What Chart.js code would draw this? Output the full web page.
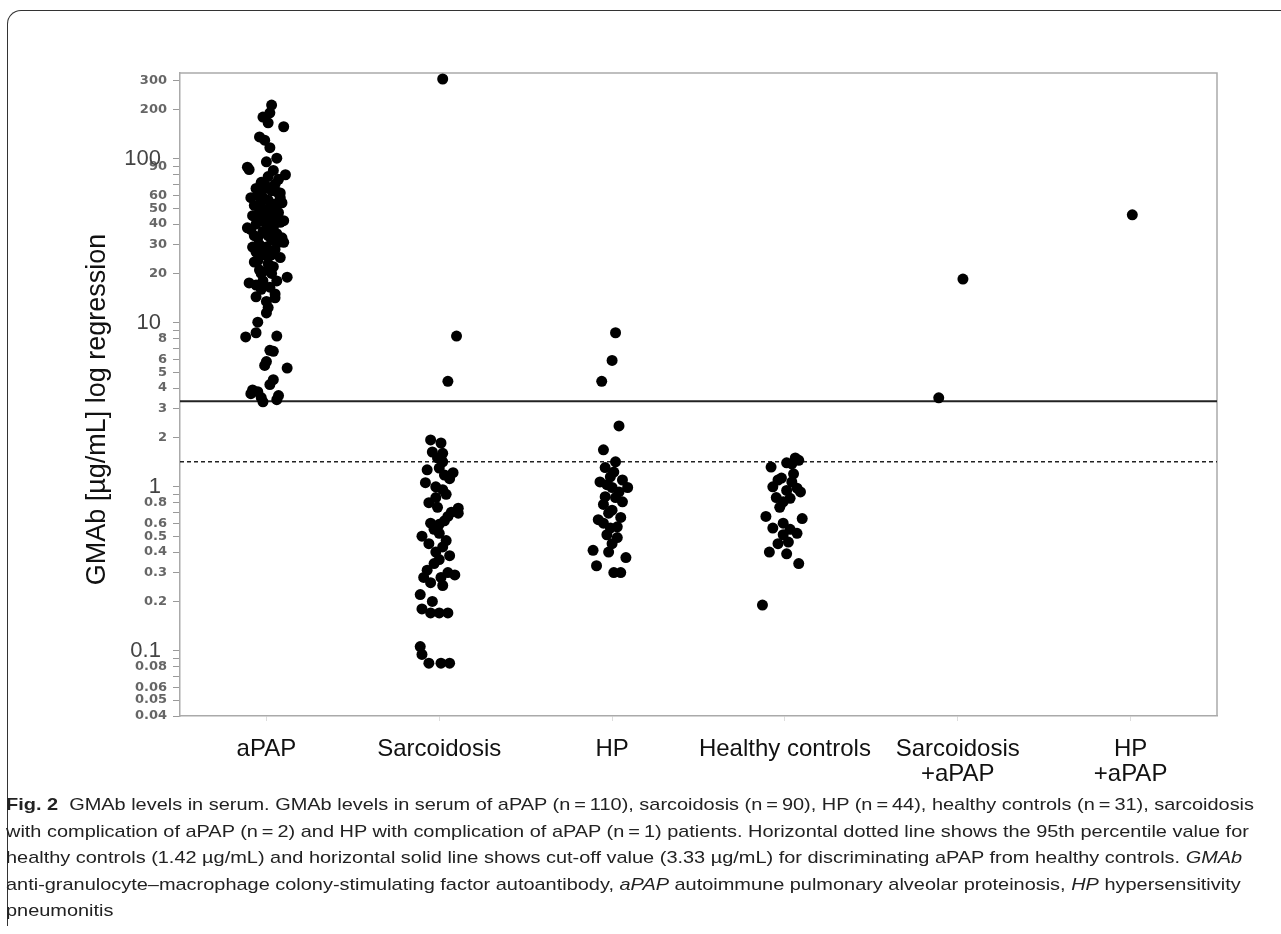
<!DOCTYPE html>
<html>
<head>
<meta charset="utf-8">
<script src="https://cdn.jsdelivr.net/npm/chart.js@4"></script>
<style>
  body{margin:0;background:#fff;}
  #frame{position:absolute;left:7px;top:10px;width:1300px;height:915px;border-top:1px solid #333;border-left:1px solid #333;border-top-left-radius:14px;}
  #wrap{position:absolute;left:0;top:0;width:1240px;height:800px;}
  #cap{position:absolute;left:6px;top:792px;font-family:"Liberation Sans",Arial,sans-serif;font-size:17px;line-height:26.5px;color:#222;white-space:nowrap;transform-origin:0 0;}
</style>
</head>
<body>
<div id="frame"></div>
<div id="wrap"><canvas id="chart"></canvas></div>
<div id="cap">
  <div><b>Fig. 2</b>&nbsp; GMAb levels in serum. GMAb levels in serum of aPAP (n&#8201;=&#8201;110), sarcoidosis (n&#8201;=&#8201;90), HP (n&#8201;=&#8201;44), healthy controls (n&#8201;=&#8201;31), sarcoidosis</div>
  <div id="capWide">with complication of aPAP (n&#8201;=&#8201;2) and HP with complication of aPAP (n&#8201;=&#8201;1) patients. Horizontal dotted line shows the 95th percentile value for</div>
  <div>healthy controls (1.42 µg/mL) and horizontal solid line shows cut-off value (3.33 µg/mL) for discriminating aPAP from healthy controls. <i>GMAb</i></div>
  <div>anti-granulocyte–macrophage colony-stimulating factor autoantibody, <i>aPAP</i> autoimmune pulmonary alveolar proteinosis, <i>HP</i> hypersensitivity</div>
  <div>pneumonitis</div>
</div>
<script>
// groups on the x axis
const groupLabels = [['aPAP'], ['Sarcoidosis'], ['HP'], ['Healthy controls'], ['Sarcoidosis', '+aPAP'], ['HP', '+aPAP']];

// GMAb values (µg/mL), with the horizontal jitter of each dot (category units)
const apapVals = [213,191,180,166,157,136,130,117,101,96,89,86,80,85,78,75,72,70,68,66,65,64,63,62,60,58,58,57,56,55,54,53,52,51,50,49,48,47,47,46,45,44,43,42,42,41,40,40,39,38,38,37,36,36,35,34,34,33,33,32,31,31,30,29,29,28,27,27,26,26,25,24,23.5,23,22,21,21,20,20,19,18,18,17.5,17,16.5,16,15,14.4,14.2,13.5,12.4,11.5,10.1,8.7,8.3,8.2,6.8,6.7,5.8,5.5,5.3,4.5,4.2,3.9,3.8,3.7,3.6,3.5,3.4,3.3];
const apapJit  = [0.03,0.02,-0.02,0.01,0.10,-0.04,-0.01,0.02,0.06,0.00,-0.11,-0.10,0.11,0.04,0.01,0.07,-0.03,0.05,0.00,-0.06,-0.02,0.03,0.06,0.08,-0.05,-0.09,0.08,-0.01,0.01,-0.03,0.09,0.05,-0.07,-0.04,0.02,-0.01,0.06,-0.04,0.07,0.03,-0.08,0.00,0.05,-0.03,0.10,0.08,-0.06,0.00,0.02,-0.11,0.04,-0.09,-0.02,0.04,0.06,0.01,-0.07,-0.05,0.09,0.03,0.10,0.07,-0.04,-0.08,0.00,0.05,-0.02,-0.06,0.03,-0.01,0.08,-0.05,-0.07,0.01,0.04,0.01,-0.04,-0.03,0.03,0.12,0.06,-0.02,-0.10,-0.06,0.02,-0.03,0.05,-0.06,0.05,0.00,0.01,0.00,-0.05,-0.06,0.06,-0.12,0.02,0.04,0.00,-0.01,0.12,0.04,0.02,-0.08,-0.05,-0.09,0.07,-0.03,0.06,-0.02];

const sarcVals = [307,8.3,4.4,1.93,1.85,1.63,1.6,1.5,1.42,1.3,1.27,1.22,1.18,1.12,1.06,1.0,0.96,0.9,0.86,0.8,0.75,0.74,0.7,0.69,0.66,0.62,0.6,0.59,0.55,0.52,0.5,0.47,0.45,0.43,0.4,0.38,0.36,0.34,0.31,0.3,0.29,0.28,0.28,0.26,0.25,0.22,0.2,0.18,0.17,0.17,0.17,0.106,0.095,0.084,0.084,0.084];
const sarcJit  = [0.02,0.10,0.05,-0.05,0.01,-0.04,0.02,-0.01,0.02,0.00,-0.07,0.08,0.03,0.06,-0.08,-0.02,0.02,0.04,-0.02,-0.06,-0.01,0.11,0.07,0.11,0.05,0.03,-0.05,0.00,-0.03,0.00,-0.10,0.04,-0.06,0.02,-0.02,0.06,0.00,-0.03,-0.07,0.05,0.09,0.01,-0.09,-0.05,0.02,-0.11,-0.04,-0.10,-0.05,0.00,0.05,-0.11,-0.10,-0.06,0.01,0.06];

const hpVals = [8.7,5.9,4.4,2.35,1.68,1.42,1.31,1.23,1.15,1.10,1.07,1.03,0.99,0.99,0.93,0.87,0.86,0.81,0.78,0.72,0.69,0.65,0.63,0.6,0.57,0.56,0.51,0.49,0.45,0.41,0.40,0.37,0.33,0.30,0.30];
const hpJit  = [0.02,0.00,-0.06,0.04,-0.05,0.02,-0.04,0.01,-0.01,0.06,-0.07,-0.03,0.00,0.09,0.04,-0.04,0.02,0.06,-0.05,0.00,-0.02,0.05,-0.08,-0.05,0.03,-0.01,-0.03,0.03,0.00,-0.11,-0.02,0.08,-0.09,0.01,0.05];

const hcVals = [1.50,1.45,1.40,1.38,1.32,1.2,1.13,1.1,1.07,1.0,0.98,0.95,0.93,0.86,0.85,0.81,0.75,0.66,0.64,0.60,0.56,0.55,0.52,0.51,0.46,0.45,0.40,0.39,0.34,0.19];
const hcJit  = [0.06,0.08,0.01,0.04,-0.08,0.05,-0.02,-0.04,0.04,-0.07,0.07,0.01,0.09,-0.05,0.03,-0.01,-0.03,-0.11,0.10,-0.01,-0.07,0.03,0.07,-0.01,0.02,-0.04,-0.09,0.01,0.08,-0.13];

const sarcApapVals = [18.5, 3.49];
const sarcApapJit  = [0.03, -0.11];
const hpApapVals = [45.6];
const hpApapJit  = [0.01];

// reference lines
const cutOff = 3.33;   // solid
const pct95 = 1.42;    // dotted

// y axis ticks (log); the big decade labels carry a trailing space so they sit a bit further left
const yTicks  = [0.04,0.05,0.06,0.07,0.08,0.09,0.1,0.2,0.3,0.4,0.5,0.6,0.7,0.8,0.9,1,2,3,4,5,6,7,8,9,10,20,30,40,50,60,70,80,90,100,200,300];
const yLabels = ['0.04','0.05','0.06','','0.08','','0.1 ','0.2','0.3','0.4','0.5','0.6','','0.8','','1 ','2','3','4','5','6','','8','','10 ','20','30','40','50','60','','','90','100 ','200','300'];
const bigTicks = [0.1, 1, 10, 100];

const groups = [[apapVals, apapJit], [sarcVals, sarcJit], [hpVals, hpJit], [hcVals, hcJit], [sarcApapVals, sarcApapJit], [hpApapVals, hpApapJit]];
const dotSets = groups.map(([vals, jit], i) => ({
  type: 'scatter',
  data: vals.map((v, k) => ({x: i + jit[k], y: v})),
  backgroundColor: '#000', borderWidth: 0, pointRadius: 5.5
}));

const refLine = (v, dash, w) => ({
  type: 'line', data: [{x: -0.5, y: v}, {x: 5.5, y: v}],
  borderColor: '#222', borderWidth: w, borderDash: dash, pointRadius: 0, order: 5
});

// top and right edges of the plot box
const boxPlugin = {
  id: 'box',
  beforeDatasetsDraw(chart){
    const {ctx, chartArea: a} = chart;
    ctx.save();
    ctx.strokeStyle = '#aaa'; ctx.lineWidth = 1.5;
    ctx.beginPath();
    ctx.moveTo(a.left, a.top); ctx.lineTo(a.right, a.top); ctx.lineTo(a.right, a.bottom);
    ctx.stroke();
    ctx.restore();
  }
};

new Chart(document.getElementById('chart'), {
  data: {datasets: [refLine(cutOff, [], 2), refLine(pct95, [4, 3], 1.5), ...dotSets]},
  options: {
    responsive: true, maintainAspectRatio: false, animation: false,
    layout: {padding: {top: 73, right: 23, left: 0, bottom: 0}},
    plugins: {legend: {display: false}, tooltip: {enabled: false}},
    scales: {
      x: {
        type: 'linear', min: -0.5, max: 5.5,
        afterBuildTicks: s => { s.ticks = groupLabels.map((g, i) => ({value: i})); },
        afterFit: s => { s.height = 84; },
        ticks: {autoSkip: false, maxRotation: 0, padding: 16, color: '#111',
          font: {family: 'Liberation Sans', size: 24, lineHeight: 1.05},
          callback: (v, i) => groupLabels[i]},
        grid: {drawOnChartArea: false, tickLength: 5, color: '#ddd'},
        border: {color: '#aaa', width: 1.5}
      },
      y: {
        type: 'logarithmic', min: 0.04, max: 334,
        afterBuildTicks: s => { s.ticks = yTicks.map(v => ({value: v})); },
        afterFit: s => { s.width = 180; },
        ticks: {autoSkip: false, padding: 6,
          color: c => bigTicks.includes(c.tick.value) ? '#444' : '#666',
          font: c => bigTicks.includes(c.tick.value) ? {family: 'Liberation Sans', size: 22} : {family: 'DejaVu Sans', size: 13, weight: 'bold'},
          callback: (v, i) => yLabels[i]},
        grid: {drawOnChartArea: false, tickLength: 7, color: '#999'},
        border: {color: '#aaa', width: 1.5},
        title: {display: true, text: 'GMAb [µg/mL] log regression\u00a0\u00a0\u00a0\u00a0', color: '#111',
          font: {family: 'Liberation Sans', size: 27}, padding: {top: 81, bottom: 0}}
      }
    }
  },
  plugins: [boxPlugin]
});

// stretch caption lines to the width used in the figure
const cap = document.getElementById('cap');
const wide = document.getElementById('capWide');
const k = 1248 / wide.getBoundingClientRect().width;
cap.style.transform = 'scaleX(' + k + ')';
</script>
</body>
</html>
